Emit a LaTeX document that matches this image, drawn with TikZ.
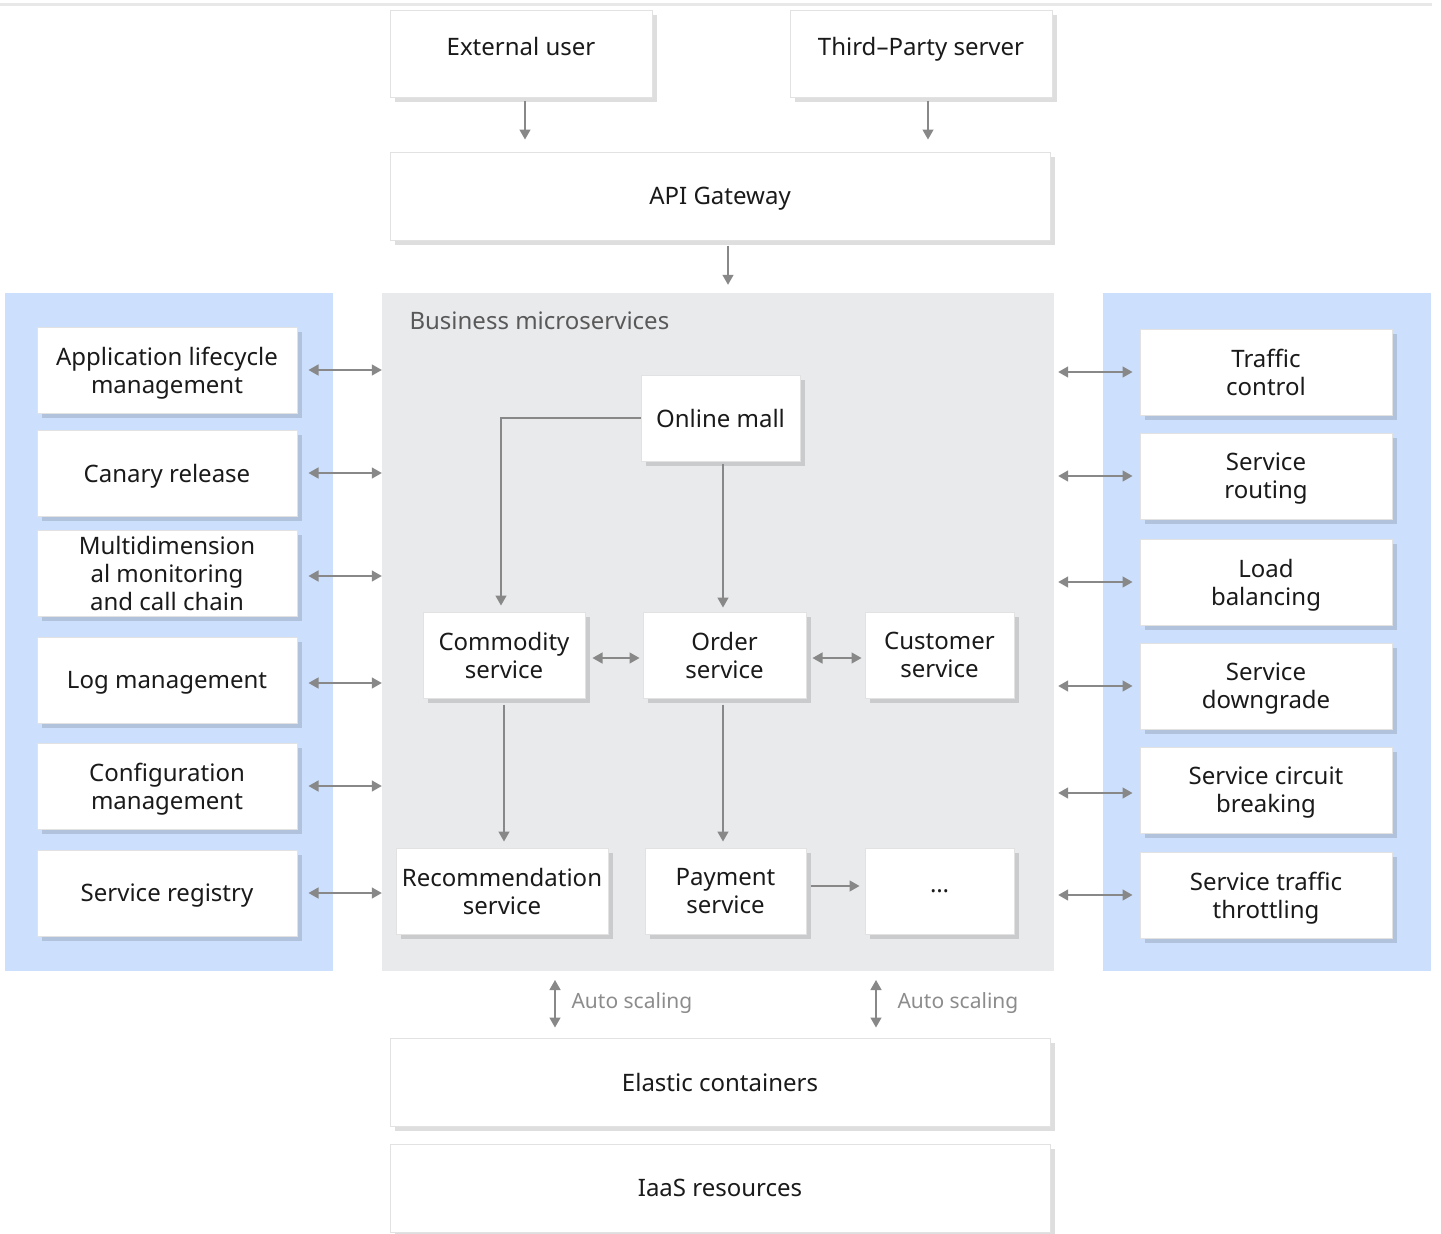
\documentclass[tikz,border=0pt]{standalone}
\usepackage{fontspec}
\setmainfont{Noto Sans}
\usetikzlibrary{positioning,arrows.meta,shadows}
\definecolor{panelblue}{HTML}{CCE0FD}
\definecolor{panelgray}{HTML}{E9EAEC}
\definecolor{linegray}{HTML}{888888}
\definecolor{boxline}{HTML}{E2E2E2}
\definecolor{txt}{HTML}{1A1A1A}

\begin{document}
\begin{tikzpicture}[x=1pt,y=-1pt,>={Triangle[length=10pt,width=11pt]},
  svc/.style={draw=boxline,fill=white,line width=1pt,text=txt,align=center,
    font=\fontsize{24}{28}\selectfont,inner sep=0pt,text depth=0pt,
    drop shadow={shadow xshift=5pt,shadow yshift=-5pt,fill=black,opacity=0.13}},
  wide/.style={svc,minimum width=660,minimum height=88},
  side/.style={svc,minimum width=260,minimum height=86},
  mid/.style={svc,minimum height=86},
  panel/.style={inner sep=0pt,minimum height=678},
  link/.style={draw=linegray,line width=1.4pt},
  note/.style={text=black!45,font=\fontsize{21}{24}\selectfont,anchor=west}]
\useasboundingbox (0,0) rectangle (1441,1234);
\draw[line width=3pt,black!9] (0,4) -- (1432,4);

\node[svc,minimum width=262,minimum height=87,text depth=14pt] (user) at (521,53.5) {External user};
\node[svc,minimum width=262,minimum height=87,text depth=14pt] (tps) at (921,53.5) {Third--Party server};
\node[wide] (gw) at (720,196) {API Gateway};

\node[panel,fill=panelblue,minimum width=328] (lp) at (169,632) {};
\node[panel,fill=panelgray,minimum width=672] (biz) at (718,632) {};
\node[panel,fill=panelblue,minimum width=328] (rp) at (1267,632) {};
\node[text=black!65,font=\fontsize{24}{28}\selectfont,anchor=west] (biztitle) at (406,321) {Business microservices};

\node[side] (lifecycle) at (167,370) {Application lifecycle\\management};
\node[side] (canary) at (167,473) {Canary release};
\node[side] (monitor) at (167,573) {Multidimension\\al monitoring\\and call chain};
\node[side] (logs) at (167,680) {Log management};
\node[side] (config) at (167,786) {Configuration\\management};
\node[side] (registry) at (167,893) {Service registry};

\node[side,minimum width=252] (traffic) at (1266,372) {Traffic\\control};
\node[side,minimum width=252] (routing) at (1266,476) {Service\\routing};
\node[side,minimum width=252] (balance) at (1266,582) {Load\\balancing};
\node[side,minimum width=252] (downgrade) at (1266,686) {Service\\downgrade};
\node[side,minimum width=252] (breaker) at (1266,790) {Service circuit\\breaking};
\node[side,minimum width=252] (throttle) at (1266,895) {Service traffic\\throttling};

\node[mid,minimum width=159] (mall) at (720.5,418) {Online mall};
\node[mid,minimum width=162] (goods) at (504,655) {Commodity\\service};
\node[mid,minimum width=163] (order) at (724.5,655) {Order\\service};
\node[mid,minimum width=149] (cust) at (939.5,655) {Customer\\service};
\node[mid,minimum width=212] (recom) at (502,891) {Recommendation\\service};
\node[mid,minimum width=161] (pay) at (725.5,891) {Payment\\service};
\node[mid,minimum width=149] (more) at (939.5,891) {\dots};

\node[wide] (ec) at (720,1082) {Elastic containers};
\node[wide] (iaas) at (720,1188) {IaaS resources};

\draw[link,->,shorten <=3pt,shorten >=12pt] ([xshift=4pt]user.south) -- ([xshift=4pt]user.south |- gw.north);
\draw[link,->,shorten <=3pt,shorten >=12pt] ([xshift=7pt]tps.south) -- ([xshift=7pt]tps.south |- gw.north);
\draw[link,->,shorten <=5pt,shorten >=8pt] ([xshift=8pt]gw.south) -- ([xshift=8pt]gw.south |- biz.north);

\draw[link,<->,shorten <=11pt] (lifecycle.east) -- (lifecycle.east -| biz.west);
\draw[link,<->,shorten <=11pt] (canary.east) -- (canary.east -| biz.west);
\draw[link,<->,shorten <=11pt] ([yshift=-3pt]monitor.east) -- ([yshift=-3pt]monitor.east -| biz.west);
\draw[link,<->,shorten <=11pt] ([yshift=-3pt]logs.east) -- ([yshift=-3pt]logs.east -| biz.west);
\draw[link,<->,shorten <=11pt] (config.east) -- (config.east -| biz.west);
\draw[link,<->,shorten <=11pt] (registry.east) -- (registry.east -| biz.west);

\draw[link,<->,shorten <=4pt,shorten >=7pt] (traffic.west -| biz.east) -- (traffic.west);
\draw[link,<->,shorten <=4pt,shorten >=7pt] (routing.west -| biz.east) -- (routing.west);
\draw[link,<->,shorten <=4pt,shorten >=7pt] (balance.west -| biz.east) -- (balance.west);
\draw[link,<->,shorten <=4pt,shorten >=7pt] (downgrade.west -| biz.east) -- (downgrade.west);
\draw[link,<->,shorten <=4pt,shorten >=7pt] ([yshift=-3pt]breaker.west -| biz.east) -- ([yshift=-3pt]breaker.west);
\draw[link,<->,shorten <=4pt,shorten >=7pt] (throttle.west -| biz.east) -- (throttle.west);

\draw[link,->,shorten >=6pt] (mall.west) -| ([xshift=-3pt]goods.north);
\draw[link,->,shorten <=2pt,shorten >=4pt] ([xshift=-1.5pt]order.north |- mall.south) -- ([xshift=-1.5pt]order.north);
\draw[link,<->,shorten <=7pt,shorten >=3pt] ([yshift=-3pt]goods.east) -- ([yshift=-3pt]order.west);
\draw[link,<->,shorten <=6pt,shorten >=3pt] ([yshift=-3pt]order.east) -- ([yshift=-3pt]cust.west);
\draw[link,->,shorten <=6pt,shorten >=6pt] (goods.south) -- (goods.south |- recom.north);
\draw[link,->,shorten <=6pt,shorten >=6pt] ([xshift=-1.5pt]order.south) -- ([xshift=-1.5pt]order.south |- pay.north);
\draw[link,->,shorten <=4pt,shorten >=5pt] ([yshift=5pt]pay.east) -- ([yshift=5pt]more.west);

\coordinate (scale1) at (555,971);
\coordinate (scale2) at (876,971);
\draw[link,<->,shorten <=9pt,shorten >=10pt] (scale1) -- (scale1 |- ec.north);
\draw[link,<->,shorten <=9pt,shorten >=10pt] (scale2) -- (scale2 |- ec.north);
\node[note] (scalenote1) at (568,1003) {Auto scaling};
\node[note] (scalenote2) at (894,1003) {Auto scaling};
\end{tikzpicture}
\end{document}
